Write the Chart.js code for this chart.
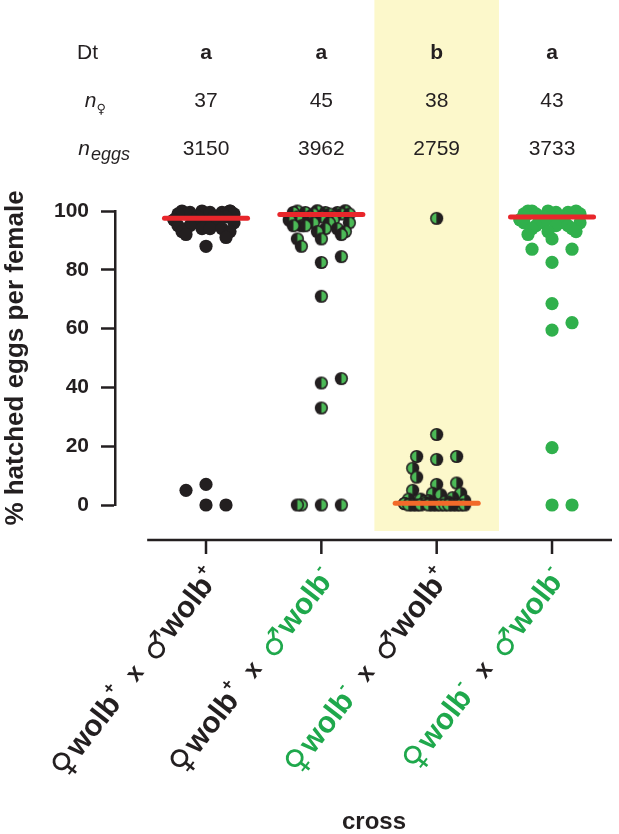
<!DOCTYPE html>
<html>
<head>
<meta charset="utf-8">
<script src="https://cdn.jsdelivr.net/npm/chart.js@4.4.1/dist/chart.umd.min.js"></script>
<style>
    html, body { margin: 0; padding: 0; background: #fff; }
    #wrap { position: relative; width: 619px; height: 834px; }
</style>
</head>
<body>
<div id="wrap"><canvas id="chart" width="619" height="834"></canvas></div>
<script>
// ====== data ======
var FEMALE_WOLB = ['+', '+', '-', '-'];
var MALE_WOLB   = ['+', '-', '+', '-'];
var DT_GROUP    = ['a', 'a', 'b', 'a'];
var N_FEMALES   = [37, 45, 38, 43];
var N_EGGS      = [3150, 3962, 2759, 3733];
var Y_TICKS     = [0, 20, 40, 60, 80, 100];

// % hatched eggs per female, one value per female
var HATCH_PP = [100,100,100,100, 99.5,99.5,99.5, 99,99,99, 98,98,98,98, 97,97,97,97,
    96,96,96,96, 95,95,95, 94,94,94, 93,93, 92, 91, 88, 7, 5, 0, 0];
var HATCH_PM = [100,100,100,100,100, 99.5,99.5,99.5,99.5, 99,99,99,99, 98,98,98,98, 97,97,97,97,
    96,96,96, 95,95,95, 94,94, 93,93, 92, 90.5, 90.5, 88, 84.5, 82.5, 71, 43, 41.5, 33, 0, 0, 0, 0];
var HATCH_MP = [97.5, 24, 16.5, 16.5, 15.5, 12.5, 9.5, 7.5, 7, 5, 4, 4, 3.5,
    2.5, 2, 2, 1.5, 1.5, 1, 1, 1, 0.5, 0.5, 0.5, 0,0,0,0,0,0,0,0,0,0,0,0,0,0];
var HATCH_MM = [100,100,100,100, 99.5,99.5,99.5,99.5, 99,99,99,99, 98,98,98,98,98, 97,97,97,97,
    96,96,96,96, 95,95,95, 94,94, 93,93, 92, 90.5, 87, 87, 82.5, 68.5, 62, 59.5, 19.5, 0, 0];
var MEDIANS = [97.5, 98.8, 0.6, 98];

(function() {
    'use strict';

    var DARK = '#231f20', GREEN = '#1fa84c', DOT_GREEN = '#30b04c', HALF_GREEN = '#4cba57';
    var BAND = '#fcf8cb', RED = '#e8262b', ORANGE = '#f26a2a';
    var SANS = '"Liberation Sans", Arial, sans-serif';
    var SYMBOL = '"DejaVu Sans", sans-serif';
    var GROUPS = [HATCH_PP, HATCH_PM, HATCH_MP, HATCH_MM];

    function wolbColor(s) { return s === '+' ? DARK : GREEN; }

    // half-filled marker (left / right halves), dark ring
    function halfDot(left, right) {
        var s = 15, m = s / 2, r = 6.6;
        var c = document.createElement('canvas'); c.width = c.height = s;
        var g = c.getContext('2d');
        g.fillStyle = DARK; g.beginPath(); g.arc(m, m, r, 0, Math.PI * 2); g.fill();
        g.fillStyle = left; g.beginPath(); g.arc(m, m, r - 1.6, Math.PI / 2, Math.PI * 1.5); g.fill();
        g.fillStyle = right; g.beginPath(); g.arc(m, m, r - 1.6, -Math.PI / 2, Math.PI / 2); g.fill();
        return c;
    }
    var STYLES = [
        { pointStyle: 'circle', pointRadius: 6.6, pointBackgroundColor: DARK },
        { pointStyle: halfDot(DARK, HALF_GREEN) },
        { pointStyle: halfDot(HALF_GREEN, DARK) },
        { pointStyle: 'circle', pointRadius: 6.6, pointBackgroundColor: DOT_GREEN }
    ];

    var datasets = [];
    MEDIANS.forEach(function(m, i) {
        datasets.push({
            data: [{ x: i - 0.36, y: m }, { x: i + 0.36, y: m }],
            showLine: true, borderColor: i === 2 ? ORANGE : RED, borderWidth: 5,
            borderCapStyle: 'round', pointRadius: 0, order: 0, clip: false
        });
    });
    GROUPS.forEach(function(vals, i) {
        var ds = { data: vals.map(function(v) { return { x: i, y: v }; }), order: 1, clip: false,
                   pointBorderWidth: 0, pointHoverRadius: 6.6 };
        for (var k in STYLES[i]) ds[k] = STYLES[i][k];
        datasets.push(ds);
    });

    // ====== cross label (rotated, two colours) ======
    function crossLabel(ctx, x, y, f, m) {
        var fc = wolbColor(f), mc = wolbColor(m);
        var segs = [
            { t: '\u2640', font: '32px ' + SYMBOL, c: fc, dy: 2, pr: 2 },
            { t: 'wolb', font: 'bold 30px ' + SANS, c: fc, dy: 0 },
            { t: f, font: 'bold 17px ' + SANS, c: fc, dy: -11 },
            { t: 'x', font: 'bold 24px ' + SANS, c: DARK, dy: 0, pl: 16, pr: 14 },
            { t: '\u2642', font: '31px ' + SYMBOL, c: mc, dy: 2, pr: 1 },
            { t: 'wolb', font: 'bold 30px ' + SANS, c: mc, dy: 0 },
            { t: m, font: 'bold 17px ' + SANS, c: mc, dy: -11 }
        ];
        var total = 0;
        segs.forEach(function(s) {
            ctx.font = s.font; s.w = ctx.measureText(s.t).width;
            total += s.w + (s.pl || 0) + (s.pr || 0);
        });
        ctx.save();
        ctx.translate(x, y);
        ctx.rotate(-52 * Math.PI / 180);
        ctx.textAlign = 'left'; ctx.textBaseline = 'middle';
        var cx = -total;
        segs.forEach(function(s) {
            cx += s.pl || 0;
            ctx.font = s.font; ctx.fillStyle = s.c;
            ctx.fillText(s.t, cx, s.dy);
            cx += s.w + (s.pr || 0);
        });
        ctx.restore();
    }

    var decor = {
        id: 'decor',
        beforeDraw: function(chart) {
            var ctx = chart.ctx, xs = chart.scales.x, a = chart.chartArea;
            ctx.save();
            ctx.fillStyle = '#fff'; ctx.fillRect(0, 0, chart.width, chart.height);
            var l = xs.getPixelForValue(1.46), r = xs.getPixelForValue(2.54);
            ctx.fillStyle = BAND; ctx.fillRect(l, 0, r - l, a.bottom + 26);
            ctx.restore();
        },
        afterDraw: function(chart) {
            var ctx = chart.ctx, xs = chart.scales.x, a = chart.chartArea;
            var axisY = a.bottom + 35;
            ctx.save();
            // x axis
            ctx.strokeStyle = DARK; ctx.lineWidth = 2.5;
            ctx.beginPath();
            ctx.moveTo(xs.getPixelForValue(-0.51), axisY); ctx.lineTo(a.right, axisY);
            GROUPS.forEach(function(_, i) {
                var px = xs.getPixelForValue(i);
                ctx.moveTo(px, axisY); ctx.lineTo(px, axisY + 14);
            });
            ctx.stroke();
            GROUPS.forEach(function(_, i) {
                crossLabel(ctx, xs.getPixelForValue(i) + 8, axisY + 33, FEMALE_WOLB[i], MALE_WOLB[i]);
            });
            ctx.fillStyle = DARK; ctx.textAlign = 'center'; ctx.textBaseline = 'alphabetic';
            ctx.font = 'bold 24px ' + SANS;
            ctx.fillText('cross', (xs.getPixelForValue(0) + xs.getPixelForValue(3)) / 2 - 5, 829);

            // header table
            var rows = [59, 107, 155];
            ctx.textAlign = 'right';
            ctx.font = '21px ' + SANS; ctx.fillText('Dt', 98, rows[0]);
            ctx.font = '13px "DejaVu Sans"'; ctx.fillText('\u2640', 106, rows[1] + 6);
            var w1 = ctx.measureText('\u2640').width;
            ctx.font = 'italic 21px ' + SANS; ctx.fillText('n', 106 - w1, rows[1]);
            ctx.font = 'italic 18px ' + SANS; ctx.fillText('eggs', 130, rows[2] + 5);
            var w2 = ctx.measureText('eggs').width;
            ctx.font = 'italic 21px ' + SANS; ctx.fillText('n', 129 - w2, rows[2]);
            ctx.textAlign = 'center';
            GROUPS.forEach(function(_, i) {
                var px = xs.getPixelForValue(i);
                ctx.font = 'bold 21px ' + SANS; ctx.fillText(DT_GROUP[i], px, rows[0]);
                ctx.font = '21px ' + SANS;
                ctx.fillText(String(N_FEMALES[i]), px, rows[1]);
                ctx.fillText(String(N_EGGS[i]), px, rows[2]);
            });
            ctx.restore();
        }
    };

    var chart = new Chart(document.getElementById('chart').getContext('2d'), {
        type: 'scatter',
        data: { datasets: datasets },
        options: {
            responsive: false, animation: false,
            layout: { padding: { top: 211, bottom: 329, left: 0, right: 7 } },
            plugins: { legend: { display: false }, tooltip: { enabled: false } },
            scales: {
                x: { type: 'linear', min: -0.789, max: 3.52, display: false },
                y: {
                    min: 0, max: 100,
                    afterBuildTicks: function(s) { s.ticks = Y_TICKS.map(function(v) { return { value: v }; }); },
                    afterFit: function(s) { s.width = 115; },
                    ticks: { color: DARK, font: { family: SANS, size: 21, weight: 'bold' }, padding: 12 },
                    grid: { display: true, drawOnChartArea: false, drawTicks: true, tickLength: 14,
                            tickWidth: 2.5, tickColor: DARK },
                    border: { display: true, width: 2.5, color: DARK },
                    title: { display: true, text: '% hatched eggs per female', color: DARK,
                             font: { family: SANS, size: 26, weight: 'bold' }, padding: { top: 0, bottom: 0 } }
                }
            }
        },
        plugins: [decor]
    });

    // ====== beeswarm layout (pixel space, wrapped into a corral, then back to x units) ======
    var STEP = 20, MIN_DIST = 20, CORRAL = 64;
    function swarm(pys) {
        var order = pys.map(function(_, i) { return i; }).sort(function(a, b) { return pys[b] - pys[a]; });
        var placed = [], offs = [];
        order.forEach(function(i) {
            var ox = 0;
            for (var k = 0; k < 80; k++) {
                var mlt = k === 0 ? 0 : (k % 2 ? (k + 1) / 2 : -k / 2);
                var cand = mlt * STEP;
                var ok = placed.every(function(p) {
                    var dx = p.x - cand, dy = p.y - pys[i];
                    return dx * dx + dy * dy >= MIN_DIST * MIN_DIST - 0.5;
                });
                if (ok) { ox = cand; break; }
            }
            placed.push({ x: ox, y: pys[i] });
            var h = CORRAL / 2;
            offs[i] = (((ox + h) % CORRAL) + CORRAL) % CORRAL - h;
        });
        return offs;
    }
    var xs = chart.scales.x, ys = chart.scales.y;
    var unit = xs.getPixelForValue(1) - xs.getPixelForValue(0);
    GROUPS.forEach(function(vals, g) {
        var offs = swarm(vals.map(function(v) { return ys.getPixelForValue(v); }));
        chart.data.datasets[MEDIANS.length + g].data.forEach(function(p, j) { p.x = g + offs[j] / unit; });
    });
    chart.update('none');
})();
</script>
</body>
</html>
